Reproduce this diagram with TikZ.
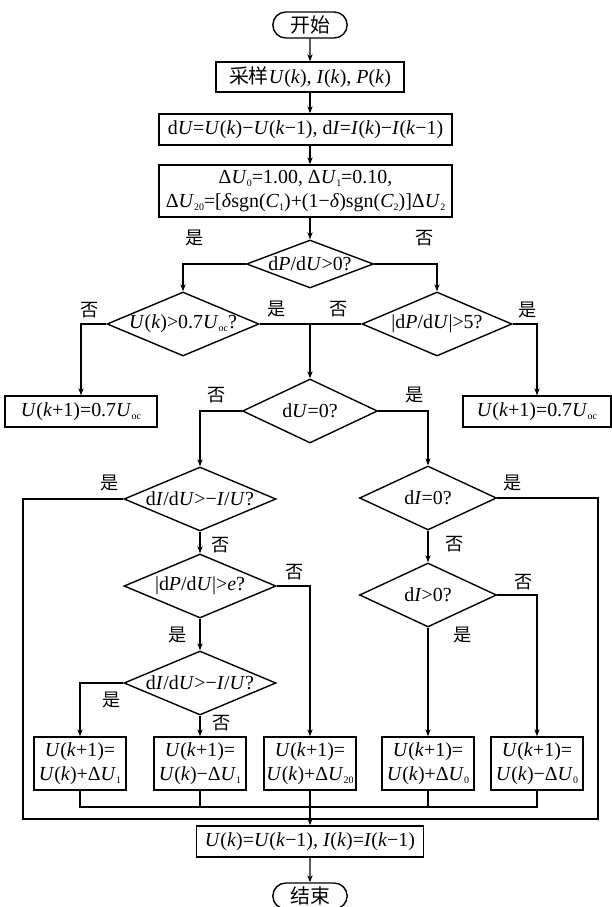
\documentclass[tikz,border=0pt]{standalone}
\usepackage{fontspec}
\setmainfont{Liberation Serif}
\newfontfamily\cjk{Noto Sans CJK SC}
\usepackage{tikz}
\usetikzlibrary{shapes.geometric, shapes.misc, arrows.meta, positioning}

% chữ nghiêng và chỉ số dưới
\newcommand{\mi}[1]{\textit{#1}}
\newcommand{\lo}[1]{\raisebox{-0.35ex}{\fontsize{8.5}{9}\selectfont #1}}
\newcommand{\lbl}{\fontsize{17}{20}\selectfont}
\newcommand{\yn}{\cjk\fontsize{15.5}{18}\selectfont}

\tikzset{
  base/.style={draw, line width=1.2pt, font=\lbl},
  term/.style={base, rounded rectangle, minimum width=2.3cm, minimum height=0.78cm, inner sep=1pt},
  proc/.style={base, rectangle, align=center, inner xsep=1pt, inner ysep=1pt},
  cond/.style={base, diamond, inner xsep=0pt, inner ysep=-1pt, aspect=2.4,
               minimum width=4.56cm, minimum height=1.92cm},
  ynlbl/.style={font=\yn, inner sep=0pt}
}

\begin{document}
\begin{tikzpicture}[x=0.03cm, y=-0.03cm, >={Stealth[length=6pt,width=4.5pt]}, line width=1.2pt]

    \useasboundingbox (0,0) rectangle (611,907);

    % =================================================================
    % 1. CÁC KHỐI PHÍA TRÊN
    % =================================================================
    \node[term] (start) at (310,25) {\cjk 开始};
    \node[proc, minimum width=5.64cm, minimum height=0.9cm] (p1) at (310,77)
        {{\cjk 采样}\mi{U}(\mi{k}), \mi{I}(\mi{k}), \mi{P}(\mi{k})};
    \node[proc, minimum width=8.79cm, minimum height=0.93cm] (p2) at (305.5,129.5)
        {d\mi{U}=\mi{U}(\mi{k})−\mi{U}(\mi{k}−1), d\mi{I}=\mi{I}(\mi{k})−\mi{I}(\mi{k}−1)};
    \node[proc, minimum width=8.79cm, minimum height=1.56cm] (p3) at (305.5,191)
        {Δ\mi{U}\lo{0}=1.00, Δ\mi{U}\lo{1}=0.10,\\
         Δ\mi{U}\lo{20}=[\mi{δ}sgn(\mi{C}\lo{1})+(1−\mi{δ})sgn(\mi{C}\lo{2})]Δ\mi{U}\lo{2}};

    % =================================================================
    % 2. CÁC KHỐI ĐIỀU KIỆN
    % =================================================================
    \node[cond, minimum width=3.81cm, minimum height=1.44cm, aspect=2.65] (d1) at (310,264)
        {d\mi{P}/d\mi{U}>0?};
    \node[cond] (d2) at (183,324) {\mi{U}(\mi{k})>0.7\mi{U}\lo{oc}?};
    \node[cond, minimum width=4.5cm] (d3) at (437,324) {|d\mi{P}/d\mi{U}|>5?};
    \node[cond, minimum width=4.05cm, aspect=2.1] (d4) at (310,411) {d\mi{U}=0?};
    \node[cond] (d5) at (200,499) {d\mi{I}/d\mi{U}>−\mi{I}/\mi{U}?};
    \node[cond] (d6) at (200,586) {|d\mi{P}/d\mi{U}|>\mi{e}?};
    \node[cond] (d7) at (200,683) {d\mi{I}/d\mi{U}>−\mi{I}/\mi{U}?};
    \node[cond, minimum width=4.11cm, aspect=2.1] (d8) at (428,498) {d\mi{I}=0?};
    \node[cond, minimum width=4.11cm, aspect=2.1] (d9) at (428,595) {d\mi{I}>0?};

    % =================================================================
    % 3. CÁC KHỐI CẬP NHẬT U(k+1)
    % =================================================================
    \node[proc, minimum width=4.56cm, minimum height=0.93cm] (bl) at (81,411.5)
        {\mi{U}(\mi{k}+1)=0.7\mi{U}\lo{oc}};
    \node[proc, minimum width=4.44cm, minimum height=0.93cm] (br) at (537,411.5)
        {\mi{U}(\mi{k}+1)=0.7\mi{U}\lo{oc}};

    \node[proc, minimum width=2.76cm, minimum height=1.59cm] (b1) at (80,763.5)
        {\mi{U}(\mi{k}+1)=\\\mi{U}(\mi{k})+Δ\mi{U}\lo{1}};
    \node[proc, minimum width=2.76cm, minimum height=1.59cm] (b2) at (200,763.5)
        {\mi{U}(\mi{k}+1)=\\\mi{U}(\mi{k})−Δ\mi{U}\lo{1}};
    \node[proc, minimum width=2.76cm, minimum height=1.59cm] (b3) at (310,763.5)
        {\mi{U}(\mi{k}+1)=\\\mi{U}(\mi{k})+Δ\mi{U}\lo{20}};
    \node[proc, minimum width=2.76cm, minimum height=1.59cm] (b4) at (428,763.5)
        {\mi{U}(\mi{k}+1)=\\\mi{U}(\mi{k})+Δ\mi{U}\lo{0}};
    \node[proc, minimum width=2.76cm, minimum height=1.59cm] (b5) at (537,763.5)
        {\mi{U}(\mi{k}+1)=\\\mi{U}(\mi{k})−Δ\mi{U}\lo{0}};

    \node[proc, minimum width=6.81cm, minimum height=0.93cm] (fin) at (310,841.5)
        {\mi{U}(\mi{k})=\mi{U}(\mi{k}−1), \mi{I}(\mi{k})=\mi{I}(\mi{k}−1)};
    \node[term] (stop) at (310,896) {\cjk 结束};

    % các điểm gấp khúc
    \coordinate (j1) at (d4 |- d2);
    \coordinate (col) at (310,807);
    \coordinate (lpL) at (23,819);
    \coordinate (lpR) at (598,819);

    % =================================================================
    % 4. MŨI TÊN NỐI
    % =================================================================
    \draw[->] (start) -- (p1);
    \draw[->] (p1) -- (p1 |- p2.north);
    \draw[->] (p2.south -| p1) -- (p1 |- p3.north);
    \draw[->] (p3.south -| d1) -- (d1);

    \draw[->] (d1.west) -| (d2);
    \draw[->] (d1.east) -| (d3);
    \draw[->] (d2.west) -| (bl);
    \draw[->] (d3.east) -| (br);
    \draw (d2.east) -- (d3.west);
    \draw[->] (j1) -- (d4);

    \draw[->] (d4.west) -| (d5);
    \draw[->] (d4.east) -| (d8);
    \draw[->] (d5) -- (d6);
    \draw[->] (d6) -- (d7);
    \draw[->] (d6.east) -| (b3);
    \draw[->] (d7.west) -| (b1);
    \draw[->] (d7) -- (b2);
    \draw[->] (d8) -- (d9);
    \draw[->] (d9) -- (b4);
    \draw[->] (d9.east) -| (b5);

    % vòng ngoài và đường gom
    \draw (d5.west) -| (lpL) -- (lpR) |- (d8.east);
    \draw (b1) |- (col) -| (b5);
    \draw (b2) -- (b2 |- col);
    \draw (b4) -- (b4 |- col);
    \draw[->] (b3) -- (fin);
    \draw[->] (fin) -- (stop);

    % =================================================================
    % 5. NHÃN 是 / 否
    % =================================================================
    \node[ynlbl] (y1) at (195,238) {是};
    \node[ynlbl] (n1) at (425,238) {否};
    \node[ynlbl] (n2) at (90,310)  {否};
    \node[ynlbl] (y2) at (277,309) {是};
    \node[ynlbl] (n3) at (339,309) {否};
    \node[ynlbl] (y3) at (528,310) {是};
    \node[ynlbl] (n4) at (217,395) {否};
    \node[ynlbl] (y4) at (415,395) {是};
    \node[ynlbl] (y5) at (110,483) {是};
    \node[ynlbl] (n5) at (221,545) {否};
    \node[ynlbl] (n6) at (295,572) {否};
    \node[ynlbl] (y6) at (178,635) {是};
    \node[ynlbl] (y7) at (112,700) {是};
    \node[ynlbl] (n7) at (222,723) {否};
    \node[ynlbl] (y8) at (513,483) {是};
    \node[ynlbl] (n8) at (455,544) {否};
    \node[ynlbl] (n9) at (524,582) {否};
    \node[ynlbl] (y9) at (463,635) {是};

\end{tikzpicture}
\end{document}
